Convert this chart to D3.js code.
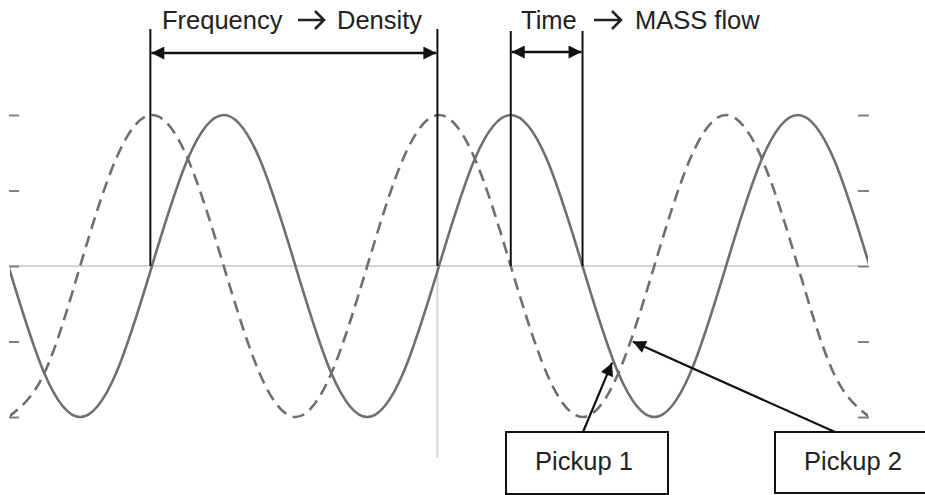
<!DOCTYPE html>
<html><head><meta charset="utf-8">
<script src="https://cdn.jsdelivr.net/npm/d3@7"></script>
<style>
html,body{margin:0;padding:0;background:#fff;}
svg{display:block;font-family:Arial,"Liberation Sans",sans-serif;}
</style></head>
<body><svg id="c" width="925" height="495"></svg>
<script>
// phase in degrees
const phase = [-180,-135,-90,-45,0,45,90,135,180,225,270,315,360,405,450,495,540,585,630,675,720,765,810,855,900];
const pickup1 = [0,-0.71,-1,-0.71,0,0.71,1,0.71,0,-0.71,-1,-0.71,0,0.71,1,0.71,0,-0.71,-1,-0.71,0,0.71,1,0.71,0];
const pickup2 = [-1,-0.71,0,0.71,1,0.71,0,-0.71,-1,-0.71,0,0.71,1,0.71,0,-0.71,-1,-0.71,0,0.71,1,0.71,0,-0.71,-1];
const yTicks = [-1,-0.5,0,0.5,1];
const spanFrom = ["Frequency","Time"];
const spanTo = ["Density","MASS flow"];
const spans = [[-2,358],[450,540]];
const boxLabels = ["Pickup 1","Pickup 2"];
const pointers = [[577,-0.64],[603,-0.5]];

const svg = d3.select("#c");
const x = d3.scaleLinear().domain([-178,898]).range([10,868]);
const y = d3.scaleLinear().domain([-1,1]).range([417,115]);

const defs = svg.append("defs");
defs.append("clipPath").attr("id","clip").append("rect")
  .attr("x",x(-178)).attr("y",0).attr("width",x(898)-x(-178)).attr("height",495);
defs.append("marker").attr("id","ah").attr("viewBox","0 0 10 10")
  .attr("refX",10).attr("refY",5).attr("markerWidth",15).attr("markerHeight",13)
  .attr("markerUnits","userSpaceOnUse").attr("orient","auto-start-reverse")
  .append("path").attr("d","M0,0 L10,5 L0,10 Z").attr("fill","#111");

// zero line and center vertical
svg.append("line").attr("x1",x(-178)).attr("x2",858).attr("y1",y(0)).attr("y2",y(0))
  .attr("stroke","#d4d4d4").attr("stroke-width",2);
svg.append("line").attr("x1",x(358)).attr("x2",x(358)).attr("y1",y(0)).attr("y2",458)
  .attr("stroke","#d4d4d4").attr("stroke-width",2);

// tick axes
const la = svg.append("g").attr("transform","translate(19,0)")
  .call(d3.axisLeft(y).tickValues(yTicks).tickSizeInner(10).tickSizeOuter(0).tickFormat(""));
const ra = svg.append("g").attr("transform","translate(858,0)")
  .call(d3.axisRight(y).tickValues(yTicks).tickSizeInner(11).tickSizeOuter(0).tickFormat(""));
[la,ra].forEach(a=>{a.select(".domain").remove();a.selectAll("line").attr("stroke","#808080").attr("stroke-width",2);});

// curves
const line = d3.line().x((d,i)=>x(phase[i])).y(d=>y(d)).curve(d3.curveNatural);
const g = svg.append("g").attr("clip-path","url(#clip)");
g.append("path").attr("d",line(pickup2)).attr("fill","none")
  .attr("stroke","#6f6f6f").attr("stroke-width",2.6).attr("stroke-dasharray","12,7");
g.append("path").attr("d",line(pickup1)).attr("fill","none")
  .attr("stroke","#6f6f6f").attr("stroke-width",2.6);

// span annotations
const tops = [29,31];
spans.forEach((s,k)=>{
  s.forEach(v=>{
    svg.append("line").attr("x1",x(v)).attr("x2",x(v)).attr("y1",tops[k]).attr("y2",y(0))
      .attr("stroke","#111").attr("stroke-width",2);
  });
  svg.append("line").attr("x1",x(s[0])+1).attr("x2",x(s[1])-1).attr("y1",53-k).attr("y2",53-k)
    .attr("stroke","#111").attr("stroke-width",2.5)
    .attr("marker-start","url(#ah)").attr("marker-end","url(#ah)");
});
// labels: word, drawn arrow, word
const labPos = [[162,298,324,337],[521,594,621,635]];
labPos.forEach((p,k)=>{
  svg.append("text").attr("x",p[0]).attr("y",29).attr("font-size",25.5).attr("fill","#222").text(spanFrom[k]);
  svg.append("text").attr("x",p[3]).attr("y",29).attr("font-size",25.5).attr("fill","#222").text(spanTo[k]);
  const my = 20;
  svg.append("path").attr("d",`M${p[1]},${my} L${p[2]},${my} M${p[2]-9},${my-9} L${p[2]},${my} L${p[2]-9},${my+9}`)
    .attr("fill","none").attr("stroke","#222").attr("stroke-width",2.6).attr("stroke-linejoin","miter");
});

// pickup boxes
const boxes = [[506,432,162,62],[775,432,160,61]];
boxes.forEach((b,k)=>{
  svg.append("rect").attr("x",b[0]).attr("y",b[1]).attr("width",b[2]).attr("height",b[3])
    .attr("fill","#fff").attr("stroke","#111").attr("stroke-width",2);
  svg.append("text").attr("x",k?853:584).attr("y",470).attr("text-anchor","middle")
    .attr("font-size",25.5).attr("fill","#222").text(boxLabels[k]);
});
const starts = [583,835];
pointers.forEach((p,k)=>{
  svg.append("line").attr("x1",starts[k]).attr("y1",432).attr("x2",x(p[0])).attr("y2",y(p[1]))
    .attr("stroke","#111").attr("stroke-width",2.2).attr("marker-end","url(#ah)");
});
</script></body></html>
